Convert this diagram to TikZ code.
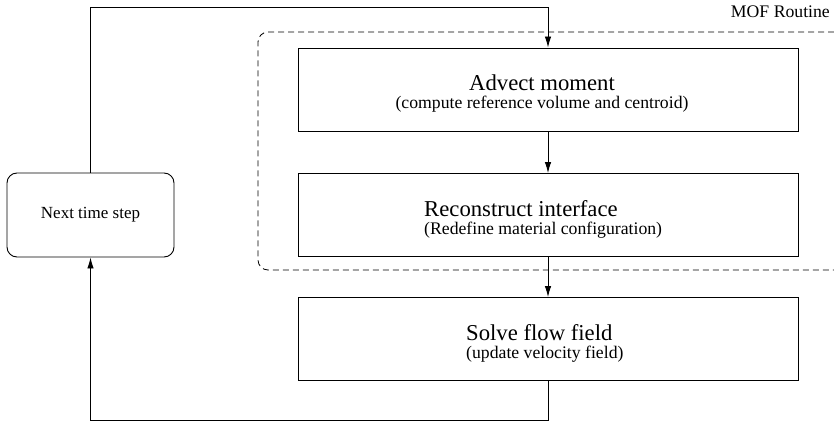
\documentclass[tikz,border=0pt]{standalone}
\usepackage{fontspec}
\setmainfont{Liberation Serif}
\usetikzlibrary{arrows.meta}

\tikzset{
    stage/.style={draw, line width=0.9pt, minimum width=500pt, minimum height=83pt, inner sep=0pt},
    loopbox/.style={draw, line width=0.9pt, rounded corners=10pt, minimum width=167pt, minimum height=84pt,
        font=\fontsize{17}{20}\selectfont},
    title/.style={font=\fontsize{22.7}{27}\selectfont, inner sep=0pt},
    note/.style={font=\fontsize{17.7}{21}\selectfont, inner sep=0pt},
    flow/.style={line width=0.9pt, -{Latex[length=11pt,width=6.5pt]}},
}

\begin{document}
\begin{tikzpicture}[x=1pt,y=-1pt]
    \useasboundingbox (0,0) rectangle (834,425);

    % Dashed frame round the MOF part (open on the right)
    \draw[line width=0.8pt, dash pattern=on 6pt off 4pt, rounded corners=10pt]
        (834,32) -| (258,270) -- (834,270);
    \node[note, anchor=base east] (mof) at (830,18) {MOF Routine};

    % Boxes
    \node[stage] (advect) at (548,89.5) {};
    \node[stage] (recon) at (548,215) {};
    \node[stage] (solve) at (548,339) {};
    \node[loopbox] (next) at (90.5,215) {Next time step};

    % Box texts
    \node[title, anchor=base] (advect title) at (542,91) {Advect moment};
    \node[note, anchor=base] (advect note) at (542,109) {(compute reference volume and centroid)};
    \node[title, anchor=base west] (recon title) at (424,216) {Reconstruct interface};
    \node[note, anchor=base west] (recon note) at (424,234) {(Redefine material configuration)};
    \node[title, anchor=base west] (solve title) at (466,340) {Solve flow field};
    \node[note, anchor=base west] (solve note) at (466,358) {(update velocity field)};

    % Arrows
    \coordinate (top) at (0,7);
    \coordinate (bottom) at (0,420);
    \draw[flow] (next.north) -- (next.north |- top) -| (advect.north);
    \draw[flow] (advect.south) -- (recon.north);
    \draw[flow] (recon.south) -- (solve.north);
    \draw[flow] (solve.south) -- (solve.south |- bottom) -| (next.south);
\end{tikzpicture}
\end{document}
